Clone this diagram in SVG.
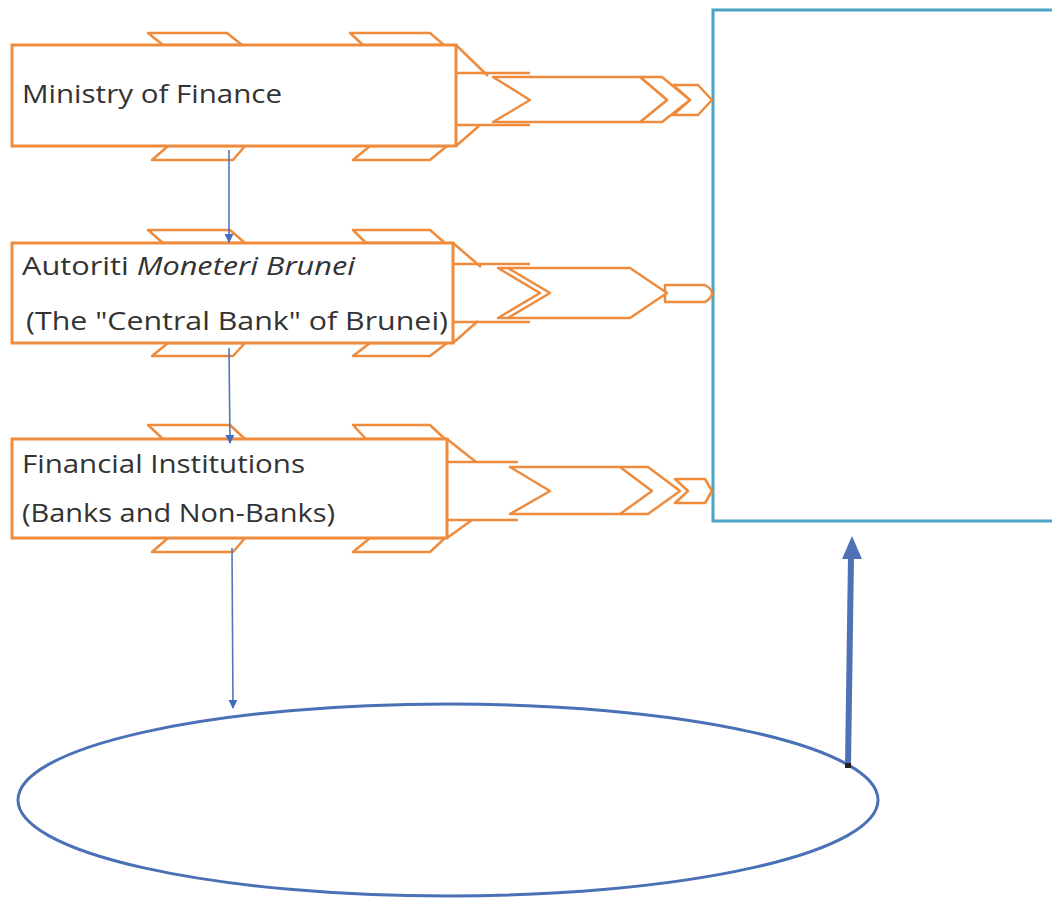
<svg xmlns="http://www.w3.org/2000/svg" width="1052" height="900" viewBox="0 0 1052 900">
<style>
.box{fill:#fff;stroke:#ee8b3d;stroke-width:3}
.tab{fill:#fff;stroke:#ee8b3d;stroke-width:2.5;stroke-linejoin:round}
.ol{fill:none;stroke:#ee8b3d;stroke-width:2.5;stroke-linejoin:round}
.chev{fill:#fff;stroke:#ee8b3d;stroke-width:2.5;stroke-linejoin:round}
.txt{font-family:"Open Sans","Noto Sans",sans-serif;font-size:25px;fill:#333}
.it{font-style:italic}
.thin{stroke:#4f79bd;stroke-width:1.6;fill:none}
</style>
<defs>
<marker id="ah" viewBox="0 0 10 10" refX="9" refY="5" markerWidth="9" markerHeight="9" markerUnits="userSpaceOnUse" orient="auto">
<path d="M0,0 L10,5 L0,10 z" fill="#3f6fc0"/>
</marker>
</defs>
<rect width="1052" height="900" fill="#fff"/>

<g id="target">
<rect x="713" y="10" width="350" height="511" fill="#fff" stroke="#4ba3c6" stroke-width="3"/>
</g>

<g id="ministry">
<polygon class="tab" points="148,33 227,33 242,45 163,45"/>
<polygon class="tab" points="350,33 430,33 444,45 363,45"/>
<polygon class="tab" points="168,146 245,146 233,160 152,160"/>
<polygon class="tab" points="370,146 447,146 430,160 353,160"/>
<rect class="box" x="12" y="45" width="444" height="101"/>
<text class="txt" x="22" y="103" textLength="260" lengthAdjust="spacingAndGlyphs">Ministry of Finance</text>
</g>

<g id="ambd">
<polygon class="tab" points="148,230 230,230 245,243 163,243"/>
<polygon class="tab" points="353,230 430,230 445,243 366,243"/>
<polygon class="tab" points="168,343 245,343 233,356 152,356"/>
<polygon class="tab" points="370,343 447,343 430,356 353,356"/>
<rect class="box" x="12" y="243" width="441" height="100"/>
<text class="txt" x="22" y="275" textLength="333" lengthAdjust="spacingAndGlyphs">Autoriti <tspan class="it">Moneteri Brunei</tspan></text>
<text class="txt" x="26" y="330" textLength="422" lengthAdjust="spacingAndGlyphs">(The "Central Bank" of Brunei)</text>
</g>

<g id="fi">
<polygon class="tab" points="148,425 230,425 245,439 163,439"/>
<polygon class="tab" points="353,425 430,425 445,439 366,439"/>
<polygon class="tab" points="168,538 245,538 233,552 152,552"/>
<polygon class="tab" points="370,538 445,538 430,552 353,552"/>
<rect class="box" x="12" y="439" width="435" height="99"/>
<text class="txt" x="22" y="473" textLength="283" lengthAdjust="spacingAndGlyphs">Financial Institutions</text>
<text class="txt" x="22" y="522" textLength="313" lengthAdjust="spacingAndGlyphs">(Banks and Non-Banks)</text>
</g>

<g id="ellipse">
<ellipse cx="448" cy="800" rx="430" ry="96" fill="#fff" stroke="#4a71b6" stroke-width="3"/>
</g>

<g id="connectors">
<!-- row 1 ribbon arrow -->
<line class="ol" x1="456" y1="45" x2="488" y2="76"/>
<line class="ol" x1="456" y1="146" x2="479" y2="126"/>
<line class="ol" x1="456" y1="73" x2="530" y2="73"/>
<line class="ol" x1="456" y1="125" x2="530" y2="125"/>
<polygon class="chev" points="673,85 698,85 712,100 698,115 673,115 690,100"/>
<polygon class="chev" points="640,77 662,77 690,100 662,122 640,122 667,100"/>
<polygon class="chev" points="493,77 640,77 667,100 640,122 493,122 530,100"/>
<!-- row 2 -->
<line class="ol" x1="453" y1="243" x2="481" y2="267"/>
<line class="ol" x1="453" y1="343" x2="478" y2="321"/>
<line class="ol" x1="453" y1="264" x2="530" y2="264"/>
<line class="ol" x1="453" y1="322" x2="530" y2="322"/>
<path class="chev" d="M665,285 L705,285 Q712,289 712,293 Q712,298 705,302 L665,302 Z"/>
<polygon class="chev" points="498,268 630,268 667,293 630,318 498,318 540,293"/>
<polyline class="ol" points="508,268 550,293 508,318"/>
<!-- row 3 -->
<line class="ol" x1="447" y1="439" x2="476" y2="462"/>
<line class="ol" x1="447" y1="538" x2="472" y2="520"/>
<line class="ol" x1="447" y1="462" x2="518" y2="462"/>
<line class="ol" x1="447" y1="520" x2="518" y2="520"/>
<polygon class="chev" points="675,479 705,479 712,491 705,503 675,503 688,491"/>
<polygon class="chev" points="510,467 648,467 680,491 648,514 510,514 550,491"/>
<polyline class="ol" points="620,467 652,491 620,514"/>

<!-- thin blue arrows -->
<line class="thin" x1="229" y1="150" x2="229" y2="242" marker-end="url(#ah)"/>
<line class="thin" x1="229" y1="348" x2="230" y2="443" marker-end="url(#ah)"/>
<line class="thin" x1="232" y1="548" x2="233" y2="708" marker-end="url(#ah)"/>
<!-- thick arrow up -->
<line x1="848" y1="766" x2="851" y2="556" stroke="#4f72b6" stroke-width="6"/>
<polygon points="852,536 842,559 862,559" fill="#4f72b6"/>
<rect x="845" y="763" width="6" height="5" fill="#222"/>
</g>
</svg>
